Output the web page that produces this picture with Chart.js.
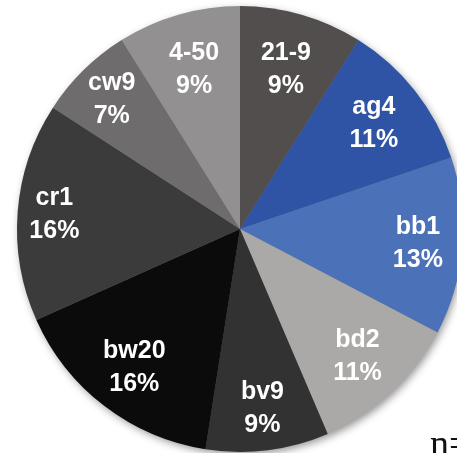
<!DOCTYPE html>
<html>
<head>
<meta charset="utf-8">
<script src="https://cdn.jsdelivr.net/npm/chart.js@4/dist/chart.umd.min.js"></script>
<style>
  html, body { margin: 0; padding: 0; background: #ffffff; }
  body { width: 457px; height: 453px; overflow: hidden; position: relative; }
  #pie { position: absolute; left: 0; top: 0; }
  #note {
    position: absolute; left: 430px; top: 424px;
    font-family: "Liberation Serif", "DejaVu Serif", serif;
    font-size: 38px; color: #111111; white-space: nowrap; line-height: 1;
  }
</style>
</head>
<body>
<canvas id="pie" width="480" height="470"></canvas>
<div id="note">n=</div>
<script>
// Share of each line (percent)
const categories = ['21-9', 'ag4', 'bb1', 'bd2', 'bv9', 'bw20', 'cr1', 'cw9', '4-50'];
const shares = [9, 11, 13, 11, 9, 16, 16, 7, 9];

// Slice fills
const sliceColors = ['#524e4d', '#2f53a5', '#4b71b9', '#aba9a8', '#333232', '#0b0b0b', '#3c3b3b', '#6e6c6c', '#929090'];
// How far out (fraction of radius) each label sits
const labelDepth = [0.745, 0.765, 0.80, 0.776, 0.81, 0.78, 0.835, 0.82, 0.745];

// Soft drop shadow under the whole pie
const pieShadow = {
  id: 'pieShadow',
  beforeDatasetsDraw(chart) {
    const arc = chart.getDatasetMeta(0).data[0];
    if (!arc) return;
    const ctx = chart.ctx;
    ctx.save();
    ctx.shadowColor = 'rgba(0,0,0,0.45)';
    ctx.shadowBlur = 9;
    ctx.shadowOffsetX = 2;
    ctx.shadowOffsetY = 3;
    ctx.beginPath();
    ctx.arc(arc.x, arc.y, arc.outerRadius - 1, 0, Math.PI * 2);
    ctx.fillStyle = '#777777';
    ctx.fill();
    ctx.restore();
  }
};

// Two-line white label (name + percent) inside each slice
const sliceLabels = {
  id: 'sliceLabels',
  afterDatasetsDraw(chart) {
    const ctx = chart.ctx;
    const meta = chart.getDatasetMeta(0);
    ctx.save();
    ctx.fillStyle = '#ffffff';
    ctx.font = 'bold 25px "Liberation Sans", Arial, sans-serif';
    ctx.textAlign = 'center';
    ctx.textBaseline = 'middle';
    meta.data.forEach((arc, i) => {
      const mid = (arc.startAngle + arc.endAngle) / 2;
      const r = arc.outerRadius * labelDepth[i];
      const x = arc.x + Math.cos(mid) * r;
      const y = arc.y + Math.sin(mid) * r;
      ctx.fillText(categories[i], x, y - 16);
      ctx.fillText(shares[i] + '%', x, y + 17);
    });
    ctx.restore();
  }
};

new Chart(document.getElementById('pie'), {
  type: 'pie',
  data: {
    labels: categories,
    datasets: [{
      data: shares,
      backgroundColor: sliceColors,
      borderWidth: 0,
      radius: 223
    }]
  },
  options: {
    responsive: false,
    devicePixelRatio: 1,
    animation: false,
    layout: { padding: { left: 0, right: 0, top: 0, bottom: 12 } },
    plugins: {
      legend: { display: false },
      tooltip: { enabled: false }
    }
  },
  plugins: [pieShadow, sliceLabels]
});
</script>
</body>
</html>
